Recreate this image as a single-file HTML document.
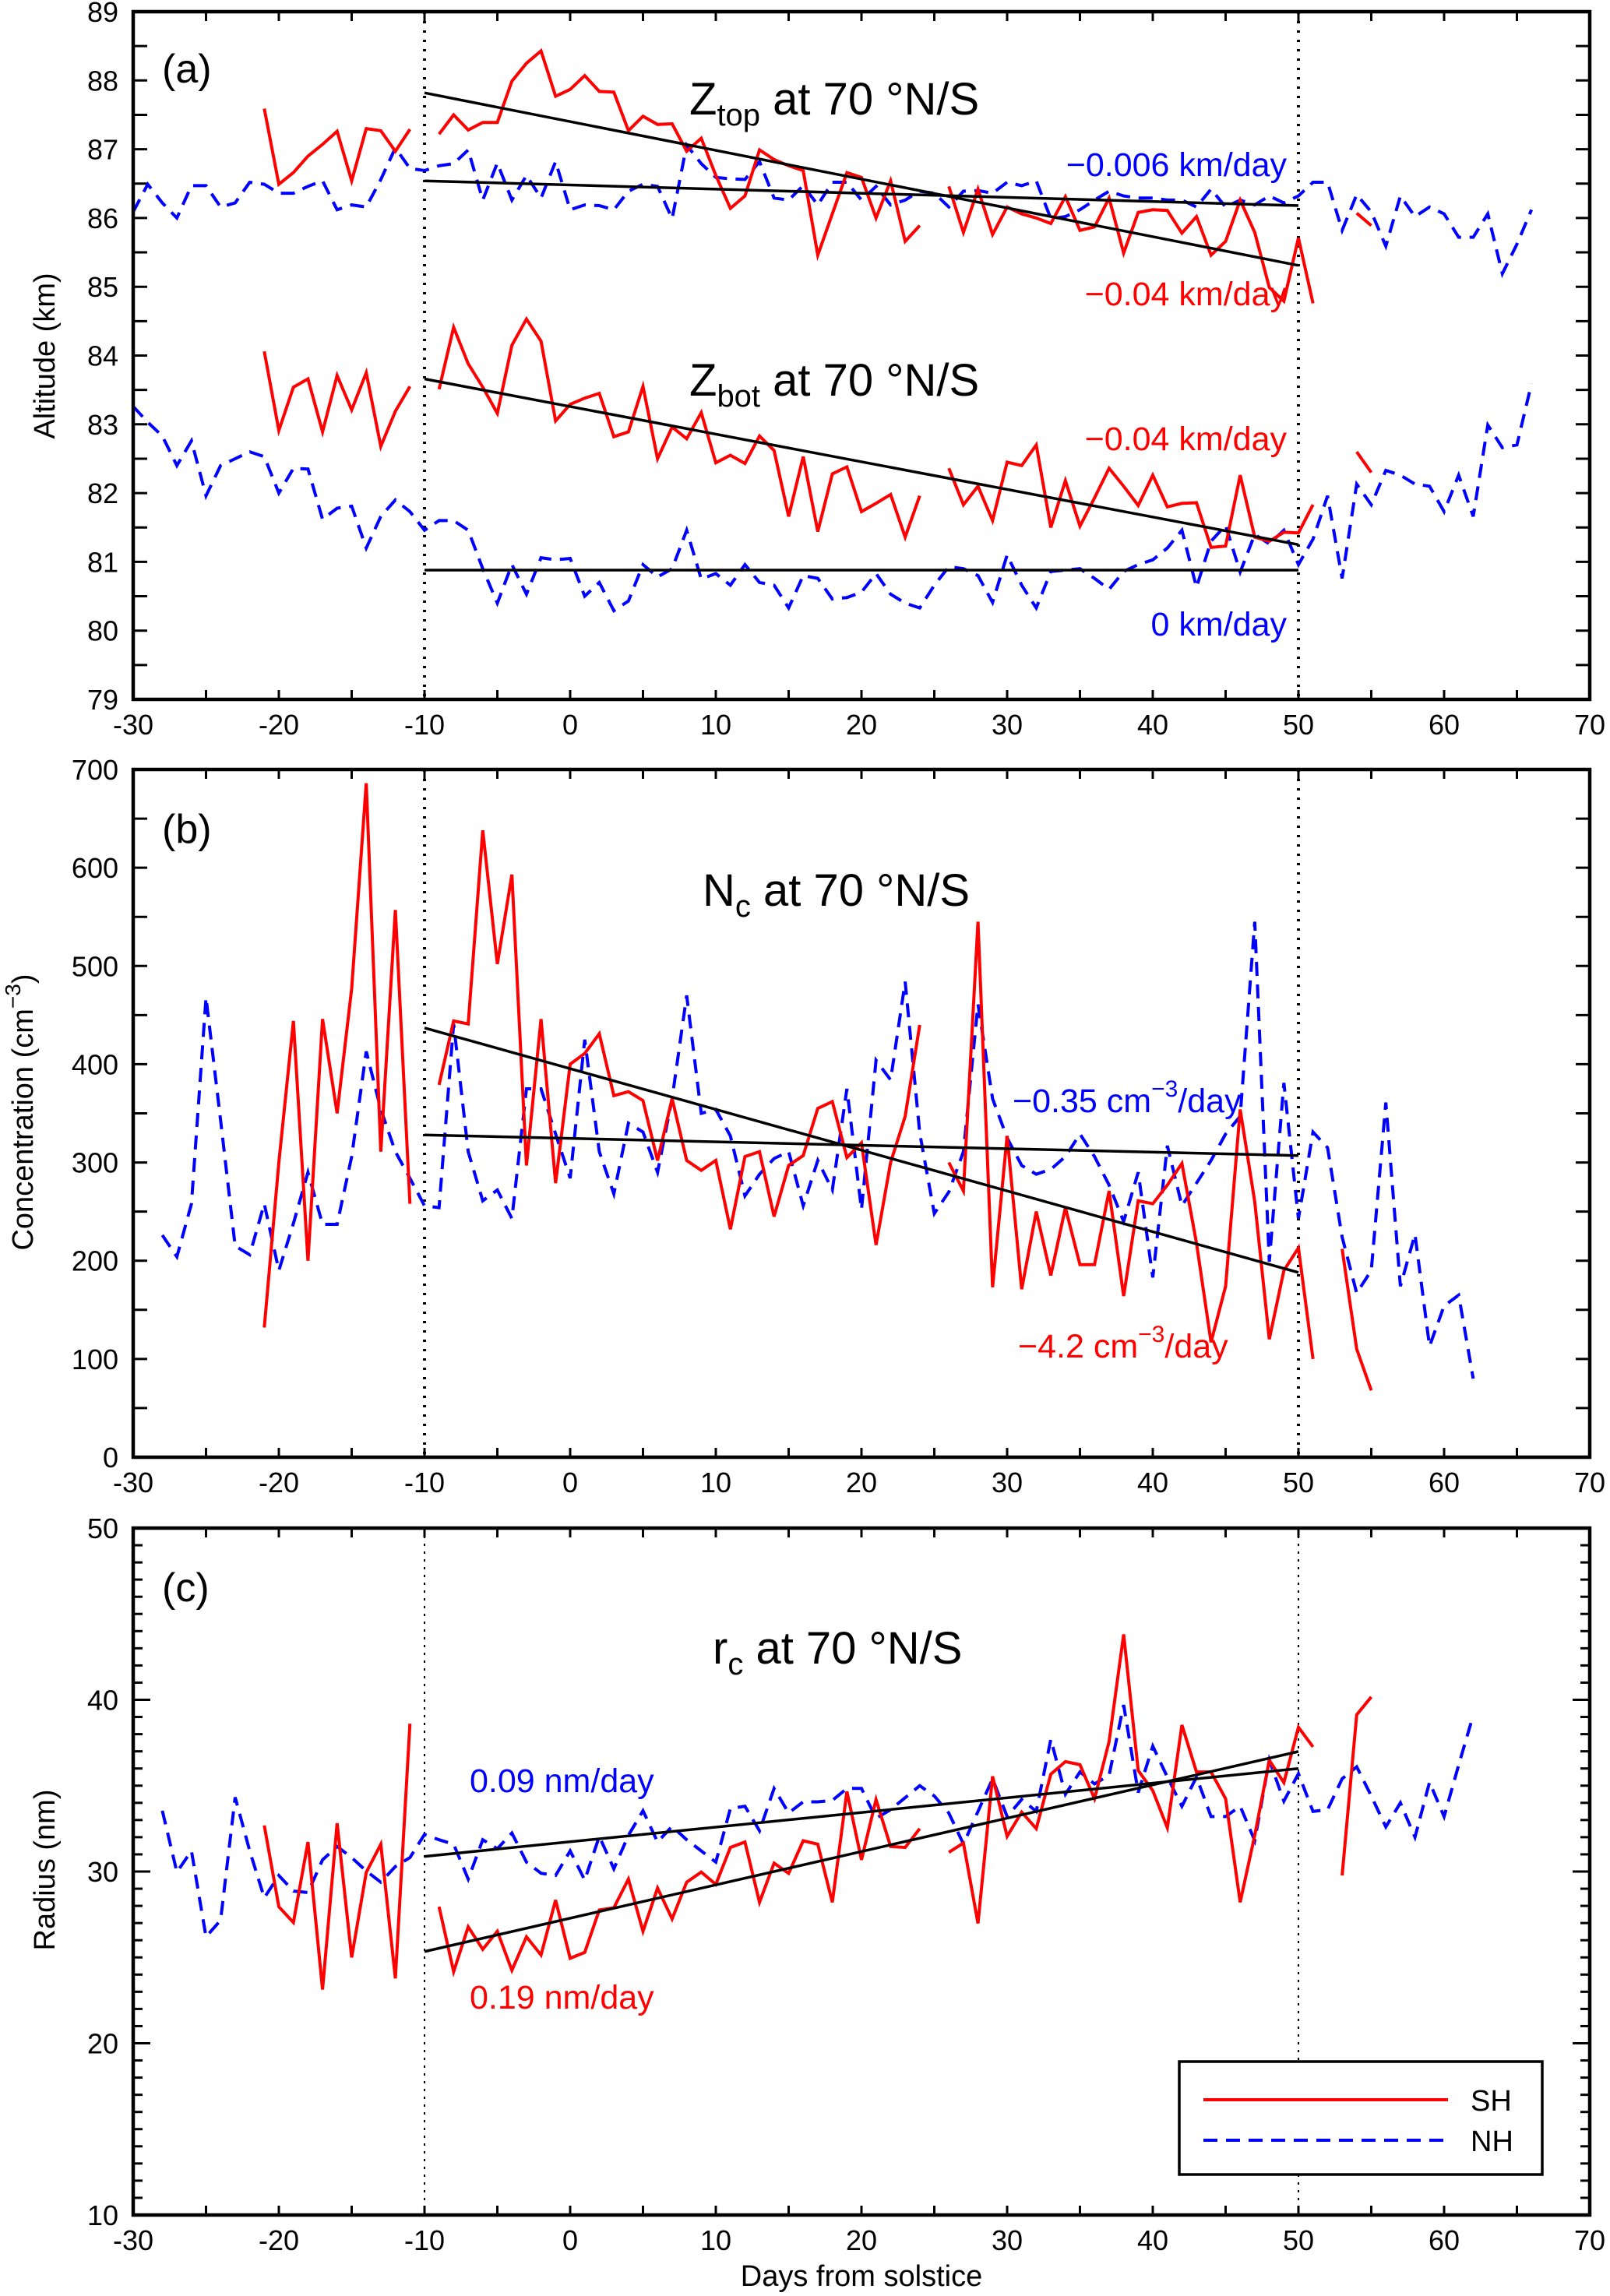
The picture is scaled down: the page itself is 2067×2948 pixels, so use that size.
<!DOCTYPE html>
<html><head><meta charset="utf-8"><style>
html,body{margin:0;padding:0;background:#fff;}
svg{display:block;font-family:"Liberation Sans",sans-serif;}
</style></head><body>
<svg id="chart" width="2067" height="2948" viewBox="0 0 2067 2948" xmlns="http://www.w3.org/2000/svg"></svg>
<script>
// ---- data ----
const xTicks = [-30,-20,-10,0,10,20,30,40,50,60,70];
const fitDays = [-10,50];

const ztopSHStart = -21;
const ztopSH = [87.59,86.49,86.66,86.9,87.07,87.26,86.54,87.3,87.27,86.97,87.29,null,
87.22,87.50,87.28,87.39,87.39,87.99,88.25,88.43,87.77,87.87,88.07,87.84,87.83,87.27,87.48,87.36,87.37,86.97,87.16,86.62,86.14,86.32,86.99,86.85,86.76,86.69,85.46,86.06,86.66,86.59,86.0,86.54,85.66,85.89,null,
86.46,85.79,86.42,85.76,86.16,86.06,86.0,85.92,86.31,85.82,85.87,86.29,85.49,86.08,86.12,86.11,85.78,86.02,85.46,85.66,86.26,85.79,84.99,84.79,85.71,84.76,null,null,86.07,85.89];
const ztopNHStart = -30;
const ztopNH = [86.09,86.49,86.22,86.0,86.47,86.47,86.16,86.22,86.52,86.49,86.36,86.36,86.46,86.54,86.12,86.19,86.16,86.56,87.02,86.72,
86.69,86.76,86.79,86.99,86.26,86.80,86.26,86.62,86.29,86.82,86.12,86.19,86.18,86.12,86.39,86.49,86.46,85.99,87.06,86.79,
86.59,86.57,86.56,86.82,86.29,86.26,86.47,86.19,86.52,86.52,86.26,86.46,86.19,86.26,86.39,86.36,86.16,86.39,86.40,86.36,
86.52,86.47,86.54,85.99,86.02,86.12,86.26,86.39,86.32,86.29,86.29,86.26,86.26,86.16,86.42,86.16,86.26,86.19,86.32,86.22,
86.32,86.52,86.52,85.82,86.34,86.09,85.59,86.32,86.02,86.16,86.06,85.72,85.72,86.06,85.19,85.62,86.12];
const zbotSHStart = -21;
const zbotSH = [84.06,82.91,83.54,83.66,82.89,83.71,83.21,83.75,82.68,83.19,83.55,null,
83.51,84.41,83.88,83.54,83.16,84.15,84.53,84.21,83.05,83.29,83.38,83.45,82.82,82.89,83.55,82.50,82.96,82.79,83.17,82.44,82.55,82.43,82.83,82.62,81.66,82.53,81.44,82.28,82.38,81.73,81.85,81.98,81.36,81.96,null,
82.36,81.83,82.10,81.60,82.45,82.40,82.70,81.50,82.18,81.52,81.93,82.36,82.10,81.82,82.26,81.80,81.85,81.86,81.21,81.23,82.26,81.36,81.30,81.43,81.42,81.83,null,null,82.60,82.30];
const zbotNHStart = -30;
const zbotNH = [83.26,83.03,82.83,82.40,82.76,81.96,82.40,82.50,82.60,82.53,82.0,82.36,82.35,81.62,81.78,81.81,81.20,81.66,81.90,81.73,
81.46,81.60,81.60,81.46,80.90,80.40,80.96,80.53,81.06,81.03,81.05,80.50,80.70,80.29,80.43,80.96,80.78,80.90,81.46,80.75,
80.83,80.66,80.96,80.70,80.66,80.33,80.80,80.76,80.46,80.48,80.56,80.83,80.53,80.40,80.33,80.66,80.93,80.90,80.80,80.41,
81.10,80.66,80.33,80.86,80.88,80.90,80.76,80.60,80.86,80.96,81.03,81.20,81.46,80.63,81.30,81.53,80.85,81.40,81.26,81.46,
80.96,81.33,81.96,80.76,82.13,81.83,82.33,82.26,82.13,82.10,81.73,82.26,81.66,82.99,82.66,82.70,83.59];
const ztopFitSH = [87.82,85.31];
const ztopFitNH = [86.54,86.18];
const zbotFitSH = [83.66,81.25];
const zbotFitNH = [80.88,80.88];

const ncSHStart = -21;
const ncSH = [132,300,444,200,446,350,477,686,311,557,258,null,
379,444,441,638,502,593,297,446,279,400,411,431,368,372,363,302,365,302,292,302,232,306,311,245,297,307,355,362,305,320,216,300,347,440,null,
300,271,545,173,327,171,250,185,254,196,196,271,164,261,258,277,299,218,117,174,354,260,120,190,213,100,null,212,110,68];
const ncNHStart = -28;
const ncNH = [226,204,258,468,343,215,206,258,190,238,290,237,237,306,413,354,311,284,
256,254,441,311,261,272,243,375,375,329,284,425,311,268,340,331,290,365,470,350,
354,327,266,288,304,311,256,302,272,375,252,404,384,484,330,248,270,311,461,365,
325,297,288,293,306,329,306,277,240,290,183,317,256,279,302,329,347,545,199,381,
243,331,315,224,167,190,361,174,227,113,154,165,80];
const ncFitSH = [437,188];
const ncFitNH = [328,307];

const rcSHStart = -21;
const rcSH = [32.68,27.95,27.03,31.72,23.13,32.81,25.0,29.95,31.59,23.78,38.61,null,
27.95,24.17,26.78,25.47,26.52,24.25,26.2,25.14,28.34,24.95,25.29,27.76,27.89,29.56,26.52,29.04,27.24,29.38,29.97,29.25,31.40,31.72,28.21,30.49,29.89,31.79,31.59,28.21,34.66,30.68,34.19,31.46,31.40,32.5,null,
31.12,31.66,26.98,35.54,32.05,33.46,32.5,35.67,36.40,36.22,34.24,37.57,43.81,35.88,34.71,32.55,38.53,35.80,35.80,34.24,28.21,32.11,36.48,35.18,38.40,37.26,null,29.77,39.13,40.17];
const rcNHStart = -28;
const rcNH = [33.54,29.97,31.20,26.20,27.16,34.32,31.2,28.47,29.77,28.86,28.78,30.68,31.46,30.81,30.03,29.38,30.29,30.81,
32.16,31.85,31.59,29.56,31.85,31.33,32.24,30.55,29.9,29.77,31.2,29.5,32.05,30.16,32.11,33.54,31.72,32.63,31.85,31.20,
30.55,33.67,33.8,32.37,34.84,33.41,34.06,34.06,34.14,34.84,34.84,33.1,33.6,34.3,35.0,34.4,33.4,31.6,33.5,35.4,
33.2,34.2,33.5,37.7,34.5,35.8,35.1,35.6,39.7,34.6,37.3,35.5,33.8,35.5,33.2,33.2,33.8,31.8,36.5,34.1,
35.7,33.5,33.6,35.4,36.1,34.4,32.6,34.0,32.0,35.2,33.2,36.2,39.1];
const rcFitSH = [25.34,36.99];
const rcFitNH = [30.88,36.0];

const yTicksA = [79,80,81,82,83,84,85,86,87,88,89];
const yTicksB = [0,100,200,300,400,500,600,700];
const yTicksC = [10,20,30,40,50];

// ---- drawing ----
const NS = "http://www.w3.org/2000/svg";
const svg = document.getElementById('chart');
const X0 = 171, X1 = 2041;
function xs(d){ return X0 + (d + 30) / 100 * (X1 - X0); }
function mk(tag, attrs, parent){
  const e = document.createElementNS(NS, tag);
  for (const k in attrs) e.setAttribute(k, attrs[k]);
  (parent || svg).appendChild(e);
  return e;
}
function makeY(top, bot, vmin, vmax){ return v => bot - (v - vmin) / (vmax - vmin) * (bot - top); }

function series(g, ys, start, vals, color, dashed, name){
  let d = '', pen = false;
  vals.forEach((v, i) => {
    if (v === null) { pen = false; return; }
    const px = xs(start + i).toFixed(1), py = ys(v).toFixed(1);
    d += (pen ? 'L' : 'M') + px + ' ' + py + ' ';
    pen = true;
  });
  const p = mk('path', {d: d, fill: 'none', stroke: color, 'stroke-width': 4, 'stroke-linejoin': 'miter'}, g);
  if (dashed) p.setAttribute('stroke-dasharray', '18 11');
  
  
}
function fit(g, ys, vals, name){
  const l = mk('line', {x1: xs(fitDays[0]), y1: ys(vals[0]), x2: xs(fitDays[1]), y2: ys(vals[1]), stroke: '#000', 'stroke-width': 3.5}, g);
  
  
}

function panel(cfg){
  const g = mk('g', {});
  
  
  const ys = makeY(cfg.top, cfg.bot, cfg.vmin, cfg.vmax);
  // vertical dotted lines
  [-10, 50].forEach(d => {
    const l = mk('line', {x1: xs(d), x2: xs(d), y1: cfg.top, y2: cfg.bot, stroke: '#000', 'stroke-width': cfg.dotW, 'stroke-dasharray': cfg.dotDash}, g);
    
    
  });
  // x ticks every 5 days
  for (let d = -25; d < 70; d += 5) {
    mk('line', {x1: xs(d), x2: xs(d), y1: cfg.bot, y2: cfg.bot - 12, stroke: '#000', 'stroke-width': 3}, g);
    mk('line', {x1: xs(d), x2: xs(d), y1: cfg.top, y2: cfg.top + 12, stroke: '#000', 'stroke-width': 3}, g);
  }
  xTicks.forEach(d => {
    const t = mk('text', {x: xs(d), y: cfg.bot + 45, 'font-size': 36, 'text-anchor': 'middle'}, g);
    t.textContent = d;
    
    
  });
  // y ticks
  for (let v = cfg.vmin + cfg.minor; v < cfg.vmax - 1e-9; v += cfg.minor) {
    const major = Math.abs((v - cfg.vmin) / cfg.major - Math.round((v - cfg.vmin) / cfg.major)) < 1e-6;
    const len = major ? cfg.majLen : cfg.minLen;
    mk('line', {x1: X0, x2: X0 + len, y1: ys(v), y2: ys(v), stroke: '#000', 'stroke-width': 3}, g);
    mk('line', {x1: X1, x2: X1 - len, y1: ys(v), y2: ys(v), stroke: '#000', 'stroke-width': 3}, g);
  }
  cfg.yTicks.forEach(v => {
    const t = mk('text', {x: 152, y: ys(v) + 13, 'font-size': 36, 'text-anchor': 'end'}, g);
    t.textContent = v;
    
    
  });
  cfg.draw(g, ys);
  const f = mk('rect', {x: X0, y: cfg.top, width: X1 - X0, height: cfg.bot - cfg.top, fill: 'none', stroke: '#000', 'stroke-width': 4.5}, g);
  
  
  return g;
}

function label(g, x, y, html, size, color, anchor, name){
  const t = mk('text', {x: x, y: y, 'font-size': size, fill: color, 'text-anchor': anchor || 'start'}, g);
  t.innerHTML = html;
  
  
  return t;
}

panel({name: 'panel-a-altitude', top: 15, bot: 898, vmin: 79, vmax: 89, minor: 0.5, major: 1, majLen: 18, minLen: 18,
  yTicks: yTicksA, dotW: 4, dotDash: '3 9',
  draw: (g, ys) => {
    series(g, ys, ztopNHStart, ztopNH, '#0000ff', true, 'ztop-nh-line');
    series(g, ys, zbotNHStart, zbotNH, '#0000ff', true, 'zbot-nh-line');
    series(g, ys, ztopSHStart, ztopSH, '#ff0000', false, 'ztop-sh-line');
    series(g, ys, zbotSHStart, zbotSH, '#ff0000', false, 'zbot-sh-line');
    fit(g, ys, ztopFitSH, 'ztop-sh-fit'); fit(g, ys, ztopFitNH, 'ztop-nh-fit');
    fit(g, ys, zbotFitSH, 'zbot-sh-fit'); fit(g, ys, zbotFitNH, 'zbot-nh-fit');
    label(g, 208, 106, '(a)', 52, '#000', 'start', 'panel-label-a');
    label(g, 885, 147, 'Z<tspan font-size="40" dy="14">top</tspan><tspan dy="-14"> at 70 °N/S</tspan>', 58, '#000', 'start', 'ztop-title');
    label(g, 885, 508, 'Z<tspan font-size="40" dy="14">bot</tspan><tspan dy="-14"> at 70 °N/S</tspan>', 58, '#000', 'start', 'zbot-title');
    label(g, 1652, 226, '−0.006 km/day', 43, '#0000ff', 'end', 'ztop-nh-trend');
    label(g, 1652, 392, '−0.04 km/day', 43, '#ff0000', 'end', 'ztop-sh-trend');
    label(g, 1652, 578, '−0.04 km/day', 43, '#ff0000', 'end', 'zbot-sh-trend');
    label(g, 1652, 816, '0 km/day', 43, '#0000ff', 'end', 'zbot-nh-trend');
  }});

panel({name: 'panel-b-concentration', top: 988, bot: 1871, vmin: 0, vmax: 700, minor: 50, major: 100, majLen: 18, minLen: 18,
  yTicks: yTicksB, dotW: 4, dotDash: '3 9',
  draw: (g, ys) => {
    series(g, ys, ncNHStart, ncNH, '#0000ff', true, 'nc-nh-line');
    series(g, ys, ncSHStart, ncSH, '#ff0000', false, 'nc-sh-line');
    fit(g, ys, ncFitSH, 'nc-sh-fit'); fit(g, ys, ncFitNH, 'nc-nh-fit');
    label(g, 208, 1082, '(b)', 52, '#000', 'start', 'panel-label-b');
    label(g, 902, 1163, 'N<tspan font-size="40" dy="14">c</tspan><tspan dy="-14"> at 70 °N/S</tspan>', 58, '#000', 'start', 'nc-title');
    label(g, 1300, 1428, '−0.35 cm<tspan font-size="30" dy="-20">−3</tspan><tspan dy="20">/day</tspan>', 43, '#0000ff', 'start', 'nc-nh-trend');
    label(g, 1307, 1743, '−4.2 cm<tspan font-size="30" dy="-20">−3</tspan><tspan dy="20">/day</tspan>', 43, '#ff0000', 'start', 'nc-sh-trend');
  }});

panel({name: 'panel-c-radius', top: 1962, bot: 2844, vmin: 10, vmax: 50, minor: 1, major: 10, majLen: 22, minLen: 12,
  yTicks: yTicksC, dotW: 2, dotDash: '3 7',
  draw: (g, ys) => {
    series(g, ys, rcNHStart, rcNH, '#0000ff', true, 'rc-nh-line');
    series(g, ys, rcSHStart, rcSH, '#ff0000', false, 'rc-sh-line');
    fit(g, ys, rcFitSH, 'rc-sh-fit'); fit(g, ys, rcFitNH, 'rc-nh-fit');
    label(g, 208, 2056, '(c)', 52, '#000', 'start', 'panel-label-c');
    label(g, 915, 2136, 'r<tspan font-size="40" dy="14">c</tspan><tspan dy="-14"> at 70 °N/S</tspan>', 58, '#000', 'start', 'rc-title');
    label(g, 603, 2301, '0.09 nm/day', 43, '#0000ff', 'start', 'rc-nh-trend');
    label(g, 603, 2579, '0.19 nm/day', 43, '#ff0000', 'start', 'rc-sh-trend');
    // legend
    const lg = mk('g', {}, g);
    
    
    mk('rect', {x: 1514, y: 2647, width: 466, height: 145, fill: '#fff', stroke: '#000', 'stroke-width': 3.5}, lg);
    const l1 = mk('line', {x1: 1545, x2: 1859, y1: 2696, y2: 2696, stroke: '#ff0000', 'stroke-width': 4}, lg);
    
    
    const l2 = mk('line', {x1: 1545, x2: 1859, y1: 2748, y2: 2748, stroke: '#0000ff', 'stroke-width': 4, 'stroke-dasharray': '18 11'}, lg);
    
    
    label(lg, 1888, 2710, 'SH', 38, '#000', 'start', 'legend-label-sh');
    label(lg, 1888, 2762, 'NH', 38, '#000', 'start', 'legend-label-nh');
  }});

// axis titles
function ytitle(x, y, html, name){
  const t = mk('text', {x: 0, y: 0, 'font-size': 38, 'text-anchor': 'middle', transform: 'translate(' + x + ',' + y + ') rotate(-90)'});
  t.innerHTML = html;
  
  
}
ytitle(70, 457, 'Altitude (km)', 'y-axis-title-altitude');
ytitle(42, 1428, 'Concentration (cm<tspan font-size="28" dy="-16">−3</tspan><tspan dy="16">)</tspan>', 'y-axis-title-concentration');
ytitle(70, 2401, 'Radius (nm)', 'y-axis-title-radius');
const xt = mk('text', {x: 1106, y: 2935, 'font-size': 38, 'text-anchor': 'middle'});
xt.textContent = 'Days from solstice';


</script>
</body></html>
